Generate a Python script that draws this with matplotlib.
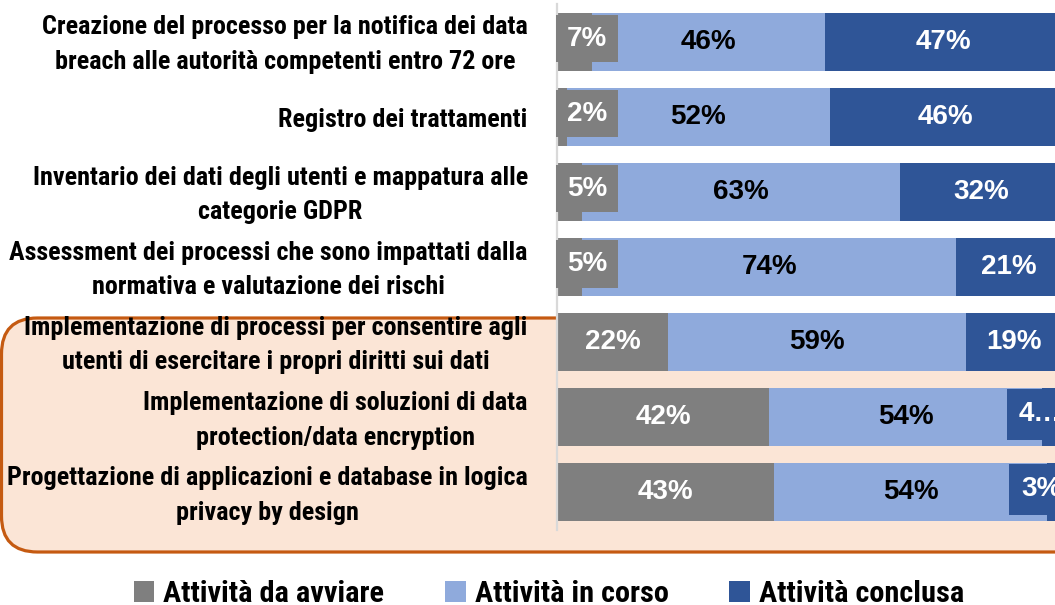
import matplotlib
matplotlib.use("Agg")
import matplotlib.pyplot as plt
from matplotlib import font_manager
from matplotlib.font_manager import FontProperties
from matplotlib.patches import FancyBboxPatch, Patch
from matplotlib.transforms import IdentityTransform, ScaledTranslation
import numpy as np

categorie = [
    "Creazione del processo per la notifica dei data\nbreach alle autorità competenti entro 72 ore",
    "Registro dei trattamenti",
    "Inventario dei dati degli utenti e mappatura alle\ncategorie GDPR",
    "Assessment dei processi che sono impattati dalla\nnormativa e valutazione dei rischi",
    "Implementazione di processi per consentire agli\nutenti di esercitare i propri diritti sui dati",
    "Implementazione di soluzioni di data\nprotection/data encryption",
    "Progettazione di applicazioni e database in logica\nprivacy by design",
]
da_avviare = [7, 2, 5, 5, 22, 42, 43]
in_corso = [46, 52, 63, 74, 59, 54, 54]
conclusa = [47, 46, 32, 21, 19, 4, 3]
serie_nomi = ["Attività da avviare", "Attività in corso", "Attività conclusa"]
# etichette accorciate come nel report
etichette_conclusa = ["47%", "46%", "32%", "21%", "19%", "4…", "3%"]

GRIGIO = "#7f7f7f"
AZZURRO = "#8faadc"
BLU = "#2f5597"


def font_stretto():
    # cerca un bold condensato/narrow tra i font installati
    cand = []
    for f in font_manager.fontManager.ttflist:
        w = f.weight if isinstance(f.weight, int) else 400
        nome = f.fname.lower()
        if w >= 600 and ("condensed" in nome or "narrow" in nome or f.stretch in ("condensed", "semi-condensed")):
            if "italic" not in nome and "oblique" not in nome:
                cand.append(f)
    for pref in ("Roboto Condensed", "Open Sans Condensed", "Liberation Sans Narrow", "Noto Sans", "DejaVu Sans"):
        for f in cand:
            if f.name.startswith(pref):
                return FontProperties(fname=f.fname)
    if cand:
        return FontProperties(fname=cand[0].fname)
    return FontProperties(family="Roboto", weight="bold")


W, H = 1055, 605
fig = plt.figure(figsize=(W / 100, H / 100), dpi=100)
rend = fig.canvas.get_renderer()
fp_base = font_stretto()


def adatta(testo, larghezza_px):
    fp = fp_base.copy()
    fp.set_size(20)
    t = fig.text(0, 0, testo, fontproperties=fp)
    wpx = t.get_window_extent(rend).width
    t.remove()
    fp.set_size(20 * larghezza_px / wpx)
    return fp


fp_cat = adatta("Registro dei trattamenti", 248)
fp_leg = adatta("Attività da avviare", 220)
num_font = "Liberation Sans"

ax = fig.add_axes([557 / W, 1 - 530 / H, 505 / W, 526 / H])
ax.set_facecolor("none")

# riquadro evidenziato dietro le ultime tre voci
box = FancyBboxPatch((1.5, H - 552), 1150, 234,
                     boxstyle="round,pad=0,rounding_size=36",
                     transform=IdentityTransform(),
                     facecolor="#fbe5d6", edgecolor="#c55a11", linewidth=2.3,
                     zorder=-5)
fig.add_artist(box)

y = np.arange(len(categorie))
h = 0.77
a = np.array(da_avviare)
b = np.array(in_corso)
c = np.array(conclusa)
ax.barh(y, a, height=h, color=GRIGIO)
ax.barh(y, b, left=a, height=h, color=AZZURRO)
ax.barh(y, c, left=a + b, height=h, color=BLU)

fs = 20
for i in range(len(y)):
    # grigio
    if a[i] < 10:
        ax.annotate(f"{a[i]}%", xy=(0, y[i] - 0.04), xytext=(7, 0),
                    textcoords="offset points", ha="left", va="center",
                    color="white", fontsize=fs, fontweight="bold", family=num_font,
                    bbox=dict(boxstyle="square,pad=0.38", fc=GRIGIO, ec="none"))
    else:
        ax.text(a[i] / 2, y[i], f"{a[i]}%", ha="center", va="center",
                color="white", fontsize=fs, fontweight="bold", family=num_font)
    # azzurro
    ax.text(a[i] + b[i] / 2, y[i], f"{b[i]}%", ha="center", va="center",
            color="black", fontsize=fs, fontweight="bold", family=num_font)
    # blu
    if c[i] < 10:
        ax.text(100, y[i] - 0.04, etichette_conclusa[i], ha="right", va="center",
                color="white", fontsize=fs, fontweight="bold", family=num_font,
                bbox=dict(boxstyle="square,pad=0.45", fc=BLU, ec="none"))
    else:
        ax.text(a[i] + b[i] + c[i] / 2, y[i], etichette_conclusa[i], ha="center",
                va="center", color="white", fontsize=fs, fontweight="bold",
                family=num_font)

ax.set_xlim(0, 100)
ax.set_ylim(len(y) - 0.5, -0.5)
ax.set_yticks(y)
ax.set_yticklabels(categorie, multialignment="center", linespacing=1.55,
                   va="center", fontproperties=fp_cat)
ax.tick_params(axis="y", length=0, pad=21)
# piccolo spostamento verso il basso delle etichette
giu = ScaledTranslation(0, -3 / 100, fig.dpi_scale_trans)
for lab in ax.get_yticklabels():
    lab.set_transform(lab.get_transform() + giu)
ax.set_xticks([])
for s in ["top", "right", "bottom"]:
    ax.spines[s].set_visible(False)
ax.spines["left"].set_color("#d9d9d9")
ax.spines["left"].set_linewidth(1.6)

handles = [Patch(facecolor=col, edgecolor="none") for col in (GRIGIO, AZZURRO, BLU)]
fig.legend(handles, serie_nomi, loc="center", bbox_to_anchor=(549 / W, 1 - 594 / H),
           ncol=3, frameon=False, handlelength=0.68, handleheight=0.68,
           handletextpad=0.3, columnspacing=2.0, prop=fp_leg)

fig.savefig("out.png", dpi=100)
